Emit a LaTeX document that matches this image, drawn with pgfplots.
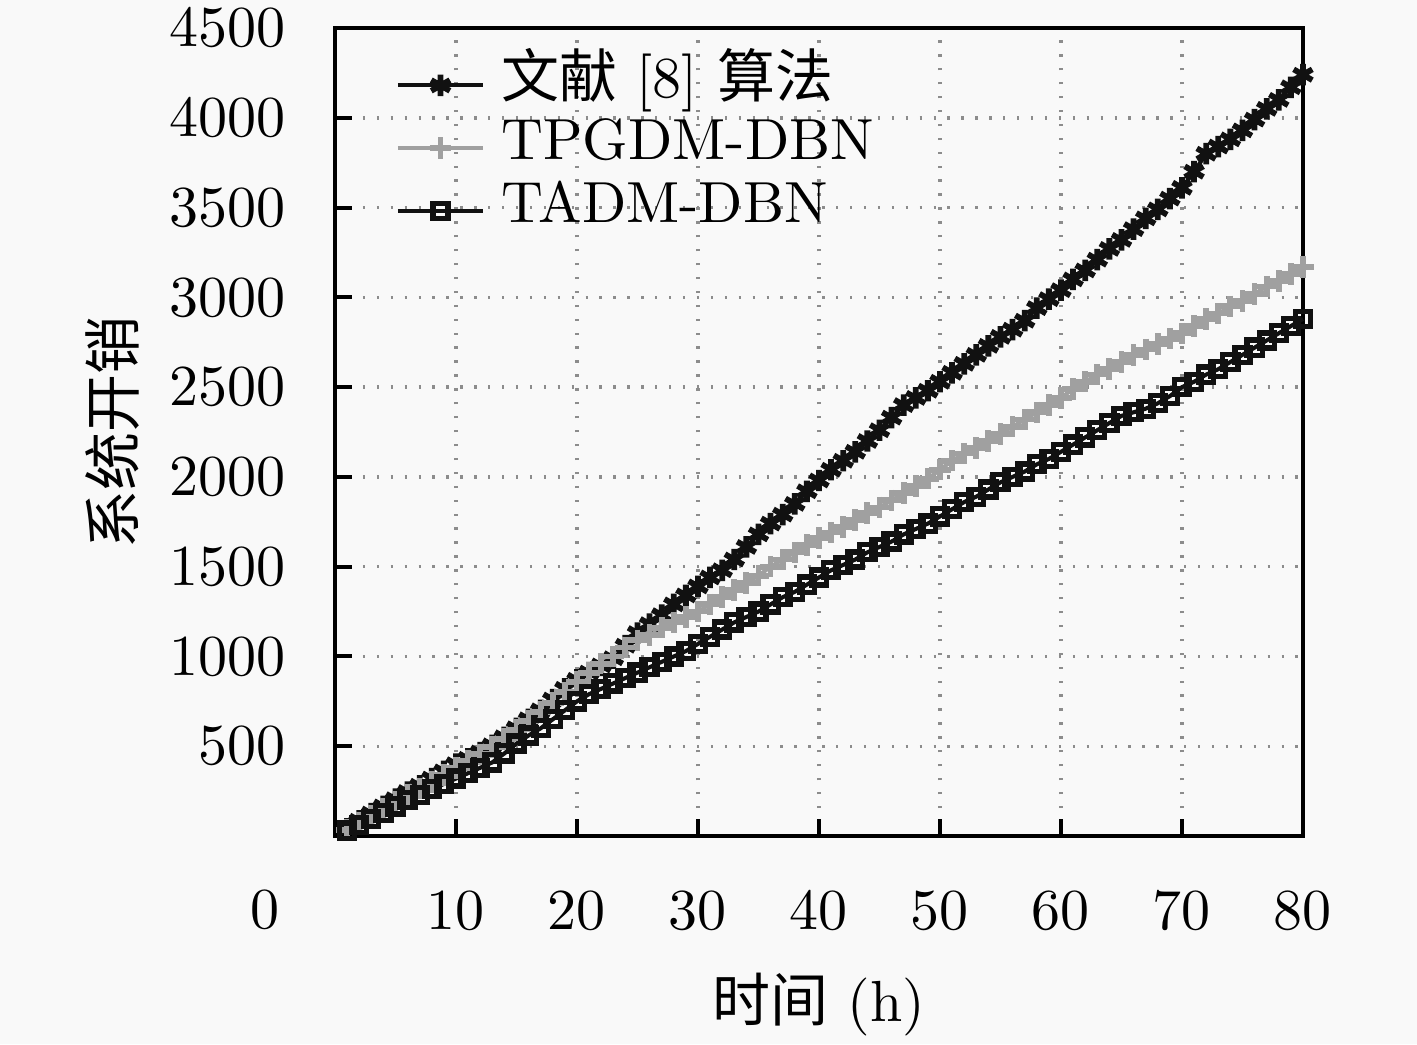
\documentclass[border=0pt]{standalone}
\usepackage{fontspec}
\usepackage{pgfplots}
\usepackage{pgfplotstable}
\pgfplotsset{compat=1.18}
\newfontfamily\cjk{Noto Sans CJK SC}
\definecolor{bgc}{RGB}{249,249,249}
\definecolor{grayline}{RGB}{160,160,160}
\definecolor{darkline}{RGB}{17,17,17}
\pgfplotstableread{
x a b c
1 40 35 30
2 85 75 60
3 125 115 95
4 165 150 130
5 205 190 165
6 245 230 200
7 280 265 230
8 320 300 260
9 360 340 290
10 400 380 320
11 430 420 350
12 465 455 380
13 505 495 410
14 550 540 460
15 600 590 515
16 650 640 560
17 700 690 600
18 760 740 650
19 820 800 700
20 870 860 750
21 910 910 790
22 950 960 820
23 990 1000 850
24 1060 1050 880
25 1130 1090 910
26 1180 1120 940
27 1230 1160 970
28 1290 1190 1000
29 1340 1220 1030
30 1390 1250 1070
31 1440 1290 1110
32 1480 1330 1150
33 1540 1370 1190
34 1610 1410 1220
35 1680 1450 1250
36 1740 1500 1290
37 1790 1540 1330
38 1850 1580 1360
39 1920 1620 1400
40 1980 1660 1440
41 2040 1690 1480
42 2090 1720 1510
43 2140 1760 1540
44 2200 1800 1580
45 2260 1830 1610
46 2330 1870 1640
47 2400 1910 1680
48 2440 1950 1710
49 2480 1990 1740
50 2530 2040 1780
51 2580 2090 1820
52 2630 2130 1860
53 2680 2160 1890
54 2730 2200 1930
55 2780 2240 1970
56 2820 2280 2000
57 2870 2320 2030
58 2940 2360 2070
59 2990 2400 2100
60 3040 2440 2140
61 3100 2490 2180
62 3150 2530 2220
63 3210 2570 2260
64 3270 2600 2300
65 3320 2640 2340
66 3380 2680 2360
67 3440 2710 2380
68 3490 2740 2410
69 3550 2770 2450
70 3610 2800 2500
71 3700 2840 2530
72 3800 2880 2570
73 3840 2910 2600
74 3880 2950 2640
75 3930 2980 2680
76 3990 3020 2720
77 4050 3060 2760
78 4100 3090 2800
79 4170 3130 2840
80 4240 3170 2880
}\data
\begin{document}
\begin{tikzpicture}
\fill[bgc] (-57.76pt,-35.86pt) rectangle (186.55pt,144.14pt);
\begin{axis}[
  at={(0,0)}, anchor=south west,
  scale only axis, width=166.9pt, height=139.31pt,
  xmin=0, xmax=80, ymin=0, ymax=4500,
  xtick={10,20,...,80}, ytick={500,1000,...,4500},
  /pgf/number format/1000 sep={},
  tick pos=left, tick align=inside,
  major tick length=2.9pt,
  every tick/.style={line width=0.7pt, black},
  axis line style={line width=0.7pt},
  grid=major,
  major grid style={dotted, line width=0.6pt, gray!90},
  xticklabel style={anchor=north, inner sep=0pt, yshift=-9.5pt},
  yticklabel style={anchor=east, inner sep=0pt, xshift=-8.3pt},
  xlabel={{\cjk 时间} (h)},
  ylabel={{\cjk 系统开销}},
  xlabel style={at={(axis description cs:0.5,-0.2089)}, anchor=center, inner sep=0pt},
  ylabel style={at={(axis description cs:-0.2295,0.5)}, anchor=center, inner sep=0pt},
  clip=false,
  legend cell align=left,
  legend style={at={(axis description cs:0,1)}, anchor=north west,
    xshift=10.3pt, yshift=-4.3pt, draw=none, fill=none,
    inner sep=0pt, column sep=2.8pt,
    nodes={inner sep=0pt, text height=7.4pt, text depth=3.4pt}},
  legend image code/.code={\draw[mark repeat=2,mark phase=2] plot coordinates {(0pt,0pt)(7.35pt,0pt)(14.7pt,0pt)};},
]
\addplot[darkline, line width=0.7pt, mark=asterisk, mark size=1.85pt, mark options={line width=1pt}] table[x=x,y=a] {\data};
\addlegendentry{{\cjk 文献} [8] {\cjk 算法}}
\addplot[grayline, line width=0.7pt, mark=+, mark size=1.85pt, mark options={line width=1pt}] table[x=x,y=b] {\data};
\addlegendentry{TPGDM-DBN}
\addplot[darkline, line width=0.7pt, mark=square, mark size=1.3pt, mark options={line width=0.9pt}] table[x=x,y=c] {\data};
\addlegendentry{TADM-DBN}
\node[inner sep=0pt, anchor=center] at (axis cs:0,0) [xshift=-12.07pt, yshift=-12.76pt] {0};
\end{axis}
\end{tikzpicture}
\end{document}
